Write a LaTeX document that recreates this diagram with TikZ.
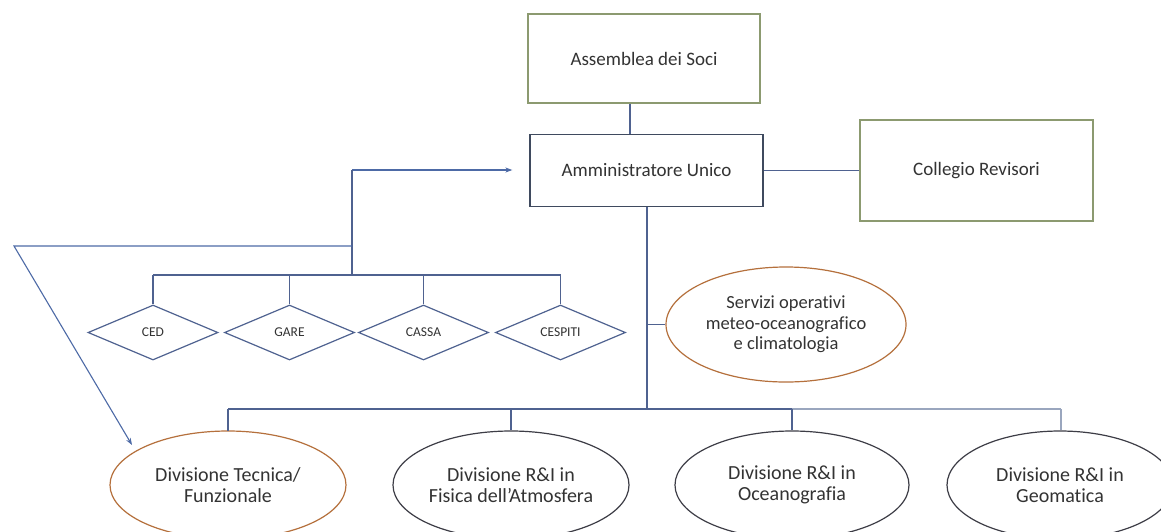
\documentclass[tikz,border=0pt]{standalone}
\usepackage{fontspec}
\setmainfont{Carlito}[Ligatures=NoCommon]
\usetikzlibrary{shapes.geometric,arrows.meta}
\definecolor{linec}{HTML}{4F6290}
\definecolor{lightc}{HTML}{9AA6BE}
\definecolor{arrc}{HTML}{4D6AA6}
\definecolor{greenb}{HTML}{8C9A70}
\definecolor{boxb}{HTML}{3F4A5E}
\definecolor{orangeb}{HTML}{B5703C}
\definecolor{darkb}{HTML}{3D3D46}
\definecolor{textc}{HTML}{333333}
\begin{document}
\begin{tikzpicture}[x=1pt,y=-1pt,
  bigtext/.style={font=\fontsize{19}{21}\selectfont, text=textc, align=center},
  greenbox/.style={bigtext, draw=greenb, line width=1.3pt, rectangle, inner sep=0pt},
  mainbox/.style={bigtext, draw=boxb, line width=1.3pt, rectangle, inner sep=0pt},
  oval/.style={bigtext, ellipse, line width=1.2pt, inner sep=0pt, minimum height=108pt},
  orangeoval/.style={oval, draw=orangeb},
  divtext/.style={font=\fontsize{20}{20.5}\selectfont},
  darkoval/.style={oval, draw=darkb, divtext},
  dia/.style={diamond, draw=linec, line width=1.2pt, inner sep=0pt, minimum width=130pt, minimum height=55pt, text=textc, font=\fontsize{13.5}{15}\selectfont},
  conn/.style={draw=linec, line width=1.2pt},
  lconn/.style={draw=lightc, line width=1.2pt},
  arr/.style={draw=arrc, line width=1.1pt, -{Stealth[length=7pt,width=5pt]}}
]
\useasboundingbox (0,0) rectangle (1161,531);
\clip (0,0) rectangle (1161,531);
\fill[white] (0,0) rectangle (1161,531);

% boxes
\node[greenbox, minimum width=232pt, minimum height=89pt] (asm) at (644,58.5) {Assemblea dei Soci};
\node[mainbox, minimum width=233pt, minimum height=72pt] (amm) at (646.5,170.5) {Amministratore Unico};
\node[greenbox, minimum width=233pt, minimum height=101pt] (col) at (976.5,170.5) {Collegio Revisori};

% servizi
\node[orangeoval, minimum width=240pt, minimum height=115pt, font=\fontsize{18.5}{20.5}\selectfont] (srv) at (786,324.5) {Servizi operativi\\meteo-oceanografico\\e climatologia};

% diamonds
\node[dia] (ced) at (153,332.5) {CED};
\node[dia] (gare) at (289.5,332.5) {GARE};
\node[dia] (cassa) at (423.5,332.5) {CASSA};
\node[dia] (cesp) at (560.5,332.5) {CESPITI};

% divisions
\node[orangeoval, minimum width=236pt, divtext] (tec) at (228,485) {Divisione Tecnica/\\Funzionale};
\node[darkoval, minimum width=236pt] (atm) at (511,485) {Divisione R\&I in\\Fisica dell’Atmosfera};
\node[darkoval, minimum width=234pt] (oce) at (792,485) {Divisione R\&I in\\Oceanografia};
\node[darkoval, minimum width=226pt] (geo) at (1060,485) {Divisione R\&I in\\Geomatica};

% coordinates
\coordinate (busy) at (0,409);
\coordinate (jtop) at (352,170);
\coordinate (jleft) at (352,246);
\coordinate (jdia) at (352,275);
\coordinate (lcorner) at (14,246);
\coordinate (tip) at (132,445);

% top connectors
\draw[conn] ([xshift=-14pt]asm.south) -- ([xshift=-14pt]asm.south |- amm.north);
\draw[conn] (amm.east) -- (amm.east -| col.west);

% main vertical and bottom bus
\draw[draw=linec, line width=2pt] (amm.south) -- (amm.south |- busy);
\draw[conn] (amm.south |- srv.west) -- (srv.west);
\draw[conn] (tec.north |- busy) -- (oce.north |- busy);
\draw[lconn] (oce.north |- busy) -- ([xshift=1pt]geo.north |- busy);
\draw[conn] (tec.north |- busy) -- ([yshift=-1pt]tec.north);
\draw[conn] (atm.north |- busy) -- (atm.north);
\draw[conn] (oce.north |- busy) -- (oce.north);
\draw[lconn] ([xshift=1pt]geo.north |- busy) -- ([xshift=1pt]geo.north);

% left tree
\draw[arr, shorten >=17pt] (jtop) -- (jtop -| amm.west);
\draw[conn] (jtop) -- (jdia);
\draw[conn] (ced.north |- jdia) -- (cesp.north |- jdia);
\foreach \d in {ced,gare,cassa,cesp} \draw[conn] (\d.north |- jdia) -- (\d.north);
\draw[arr] (jleft) -- (lcorner) -- (tip);
\end{tikzpicture}
\end{document}
